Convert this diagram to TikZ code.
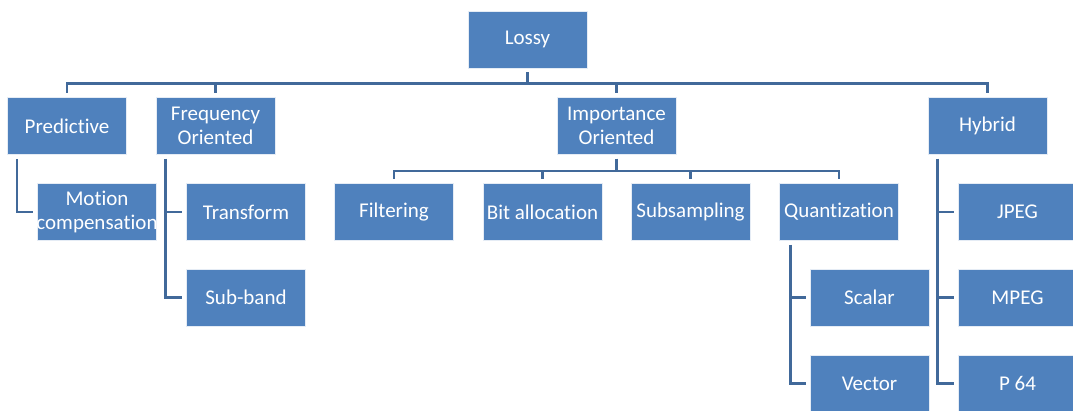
\documentclass[tikz,border=0pt]{standalone}
\usepackage{fontspec}
\setmainfont{Carlito}[Ligatures={NoCommon}]
\definecolor{boxblue}{HTML}{4F81BD}
\definecolor{lineblue}{HTML}{41699A}
\begin{document}
\begin{tikzpicture}[x=1bp,y=-1bp,
  box/.style={rectangle, fill=boxblue, draw=white!85!boxblue, line width=0.8bp,
    minimum width=119bp, minimum height=57bp, inner sep=0pt, align=center,
    text=white, font=\fontsize{21bp}{24bp}\selectfont},
  conn/.style={draw=lineblue, line width=2.8bp, shorten <=4bp, shorten >=4bp}]
\useasboundingbox (0,0) rectangle (1073,410);
\clip (0,0) rectangle (1073,410);
% boxes
\node[box] (lossy) at (527.5,39.5) {Lossy};
\node[box] (pred) at (67,126) {Predictive};
\node[box] (freq) at (215.5,126) {Frequency\\Oriented};
\node[box] (imp) at (616.5,126) {Importance\\Oriented};
\node[box] (hyb) at (987.5,126) {Hybrid};
\node[box] (mot) at (97,212) {\makebox[0pt]{Motion}\\\makebox[0pt]{compensation}};
\node[box] (tra) at (246,212) {Transform};
\node[box] (sub) at (246,297.5) {Sub-band};
\node[box] (fil) at (394,212) {Filtering};
\node[box] (bit) at (542.5,212) {Bit allocation};
\node[box] (sam) at (690.5,212) {Subsampling};
\node[box] (qua) at (839,212) {Quantization};
\node[box] (sca) at (869.5,297.5) {Scalar};
\node[box] (vec) at (869.5,383.5) {Vector};
\node[box] (jpg) at (1017.5,212) {JPEG};
\node[box] (mpg) at (1017.5,297.5) {MPEG};
\node[box] (p64) at (1017.5,383.5) {P 64};
% top level bus
\foreach \t in {pred,freq,imp,hyb}
  \draw[conn] (lossy.south) -- ++(0,15) -| (\t.north);
% importance bus
\foreach \t in {fil,bit,sam,qua}
  \draw[conn] (imp.south) -- ++(0,16) -| (\t.north);
% side connectors
\draw[conn] ([xshift=10bp]pred.south west) |- (mot.west);
\draw[conn] ([xshift=10bp]freq.south west) |- (tra.west);
\draw[conn] ([xshift=10bp]freq.south west) |- (sub.west);
\draw[conn] ([xshift=11bp]qua.south west) |- (sca.west);
\draw[conn] ([xshift=11bp]qua.south west) |- (vec.west);
\draw[conn] ([xshift=10bp]hyb.south west) |- (jpg.west);
\draw[conn] ([xshift=10bp]hyb.south west) |- (mpg.west);
\draw[conn] ([xshift=10bp]hyb.south west) |- (p64.west);
\end{tikzpicture}
\end{document}
